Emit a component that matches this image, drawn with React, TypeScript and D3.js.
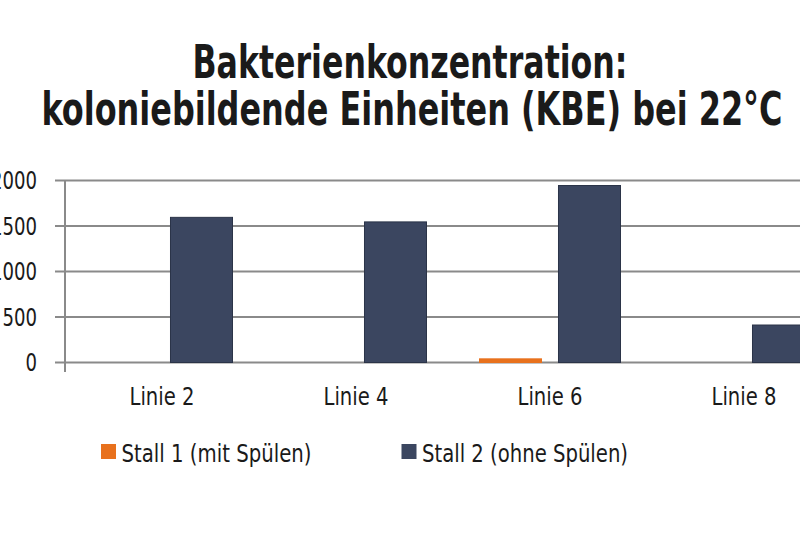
import React from "react";
import * as d3 from "d3";

const titleLines = [
  "Bakterienkonzentration:",
  "koloniebildende Einheiten (KBE) bei 22°C",
];
const categories = ["Linie 2", "Linie 4", "Linie 6", "Linie 8"];
const seriesNames = ["Stall 1 (mit Spülen)", "Stall 2 (ohne Spülen)"];
const stall1 = [0, 0, 40, 0];
const stall2 = [1595, 1545, 1945, 412];
const yTicks = [0, 500, 1000, 1500, 2000];
const colors = ["#e8711d", "#3b4660"];

const W = 800;
const H = 533;
const FONT = "'Liberation Sans Narrow', 'DejaVu Sans Condensed', 'Roboto Condensed', Arial, sans-serif";

export default function App() {
  const x0 = 65;
  const bandW = 194;
  const x = d3
    .scaleBand<string>()
    .domain(categories)
    .range([x0, x0 + bandW * categories.length])
    .paddingInner(0)
    .paddingOuter(0);
  const inner = d3
    .scaleBand<number>()
    .domain([0, 1])
    .range([26.5, bandW - 26.5])
    .paddingInner(0.215);
  const y = d3.scaleLinear().domain([0, 2000]).range([362.5, 180.5]);
  const series = [stall1, stall2];
  const legendWidths = [190, 206];

  return (
    <svg
      width={W}
      height={H}
      style={{ position: "absolute", left: 0, top: 0, background: "#fff" }}
      fontFamily={FONT}
    >
      <rect x={0} y={0} width={W} height={H} fill="#fff" />
      {/* title */}
      <text
        x={410}
        y={78}
        textAnchor="middle"
        fontSize={47}
        fontWeight="bold"
        fill="#1a1a1a"
        textLength={435}
        lengthAdjust="spacingAndGlyphs"
      >
        {titleLines[0]}
      </text>
      <text
        x={412}
        y={125}
        textAnchor="middle"
        fontSize={47}
        fontWeight="bold"
        fill="#1a1a1a"
        textLength={741}
        lengthAdjust="spacingAndGlyphs"
      >
        {titleLines[1]}
      </text>

      {/* gridlines */}
      {yTicks.map((t) => (
        <line
          key={"g" + t}
          x1={55}
          x2={W}
          y1={y(t)}
          y2={y(t)}
          stroke="#8a8a8a"
          strokeWidth={2}
        />
      ))}
      {/* y axis line */}
      <line x1={x0} x2={x0} y1={y(2000)} y2={372} stroke="#8a8a8a" strokeWidth={2} />

      {/* y labels */}
      {yTicks.map((t) => {
        const s = String(t);
        return (
          <text
            key={"yl" + t}
            x={37}
            y={y(t) + 8.5}
            textAnchor="end"
            fontSize={24}
            fill="#1a1a1a"
            textLength={s.length * 11.5}
            lengthAdjust="spacingAndGlyphs"
          >
            {s}
          </text>
        );
      })}

      {/* bars */}
      {categories.map((c, i) =>
        series.map((s, si) => {
          const v = s[i];
          if (v <= 0) return null;
          const bx = (x(c) as number) + (inner(si) as number);
          return (
            <rect
              key={c + si}
              x={bx}
              y={y(v)}
              width={inner.bandwidth()}
              height={y(0) - y(v)}
              fill={colors[si]}
              stroke={si === 1 ? "#2b3448" : colors[si]}
              strokeWidth={1}
            />
          );
        })
      )}

      {/* category labels */}
      {categories.map((c) => (
        <text
          key={"cl" + c}
          x={(x(c) as number) + bandW / 2}
          y={405}
          textAnchor="middle"
          fontSize={25}
          fill="#1a1a1a"
          textLength={65}
          lengthAdjust="spacingAndGlyphs"
        >
          {c}
        </text>
      ))}

      {/* legend */}
      {seriesNames.map((n, i) => {
        const lx = i === 0 ? 101 : 401.5;
        return (
          <g key={n}>
            <rect x={lx} y={444} width={15} height={15} fill={colors[i]} />
            <text
              x={lx + 20.5}
              y={461.5}
              fontSize={25}
              fill="#1a1a1a"
              textLength={legendWidths[i]}
              lengthAdjust="spacingAndGlyphs"
            >
              {n}
            </text>
          </g>
        );
      })}
    </svg>
  );
}
